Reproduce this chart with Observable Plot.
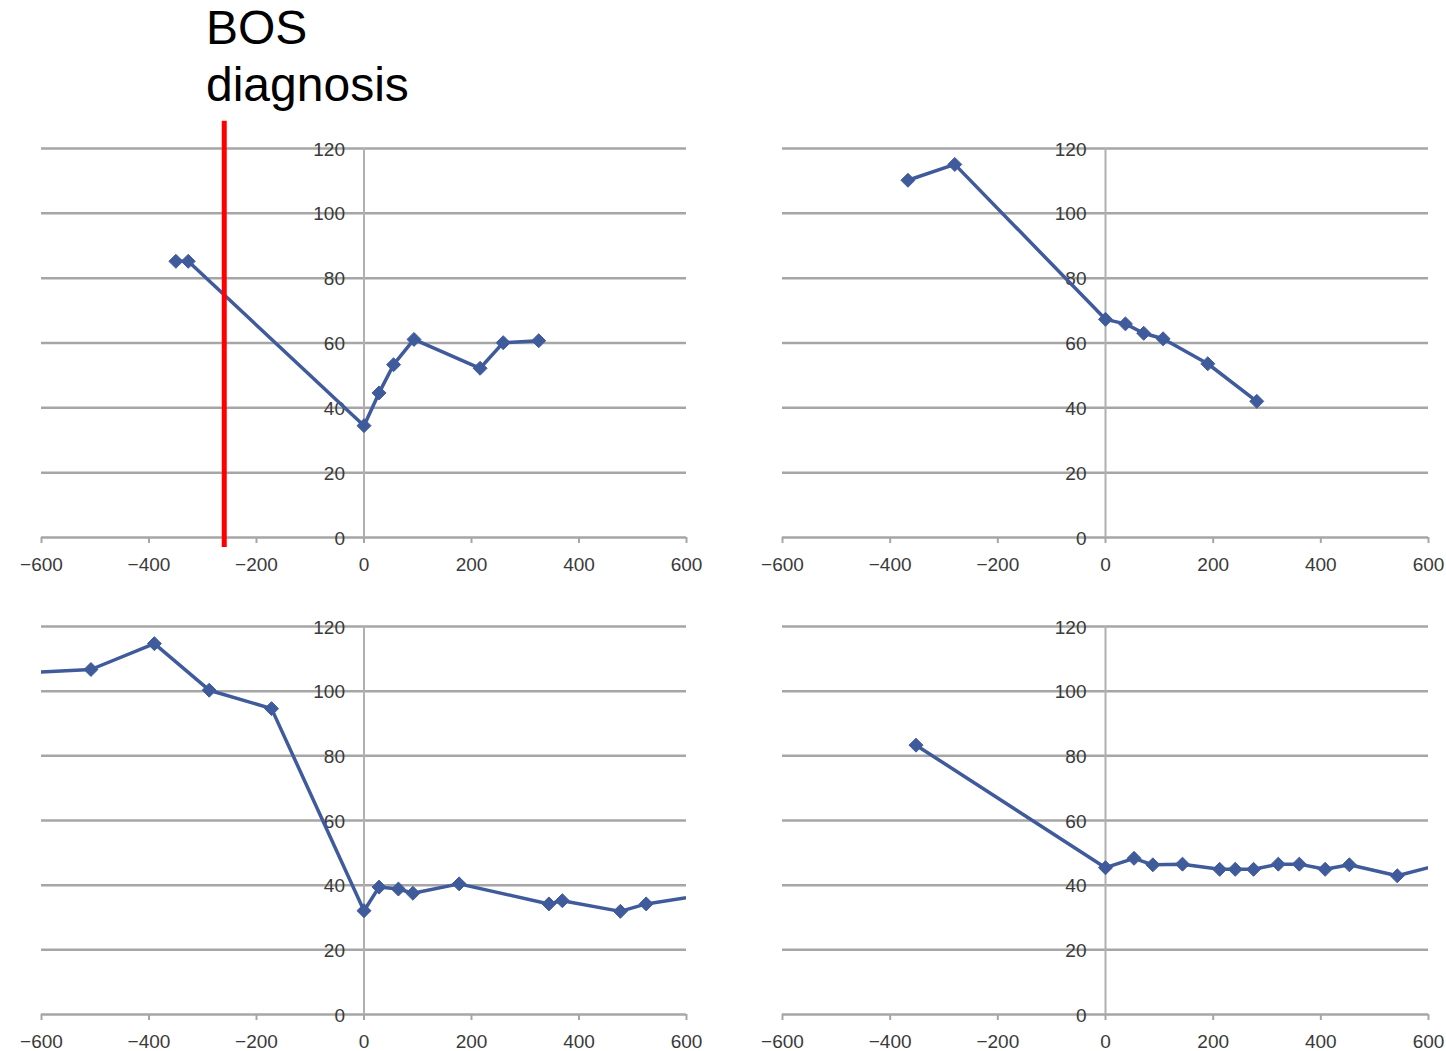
<!DOCTYPE html>
<html>
<head>
<meta charset="utf-8">
<script src="https://cdn.jsdelivr.net/npm/d3@7"></script>
<script src="https://cdn.jsdelivr.net/npm/@observablehq/plot@0.6"></script>
<style>
  html, body { margin: 0; padding: 0; background: #fff; }
  #wrap { position: relative; width: 1446px; height: 1051px; background: #fff; overflow: hidden; }
  .panel { position: absolute; }
  #title { position: absolute; left: 206px; top: -1px; font-family: "Liberation Sans", Arial, sans-serif; font-size: 48px; line-height: 57px; color: #000; }
</style>
</head>
<body>
<div id="wrap">
  <div id="title">BOS<br>diagnosis</div>
  <div class="panel" id="p1"></div>
  <div class="panel" id="p2"></div>
  <div class="panel" id="p3"></div>
  <div class="panel" id="p4"></div>
</div>
<script>
// Tick values
const xTicks = [-600, -400, -200, 0, 200, 400, 600];
const yTicks = [0, 20, 40, 60, 80, 100, 120];

// Panel 1 (top-left)
const p1x = [-350, -327, 0, 28, 55, 93, 216, 259, 325];
const p1y = [85.2, 85.2, 34.5, 44.6, 53.3, 61.1, 52.2, 60.1, 60.7];
const bosDiagnosisX = [-260];

// Panel 2 (top-right)
const p2x = [-367, -280, 0, 37, 71, 107, 190, 281];
const p2y = [110.2, 115.1, 67.3, 65.9, 63.0, 61.3, 53.6, 42.0];

// Panel 3 (bottom-left) — series continues past both edges of the axis range
const p3x = [-640, -508, -390, -288, -172, 0, 28, 64, 91, 177, 344, 369, 477, 525, 650];
const p3y = [105.6, 106.7, 114.7, 100.3, 94.6, 32.1, 39.4, 38.8, 37.5, 40.4, 34.2, 35.2, 31.9, 34.2, 37.4];

// Panel 4 (bottom-right) — series continues past the right edge
const p4x = [-352, 0, 53, 88, 143, 212, 241, 275, 321, 360, 408, 453, 542, 650];
const p4y = [83.3, 45.4, 48.3, 46.3, 46.5, 44.9, 44.9, 44.9, 46.5, 46.5, 44.9, 46.3, 42.9, 47.6];

const BLUE = "#3f5b9c";
const GRID = "#a6a6a6";
const LABEL = "#3a3a3a";

function fmt(d) { return d < 0 ? "\u2212" + Math.abs(d) : String(d); }

function panel(xs, ys, geom, extra) {
  const data = xs.map((x, i) => ({x, y: ys[i]}));
  const marks = [
    Plot.ruleY(yTicks, {stroke: GRID, strokeWidth: 2.5}),
    Plot.ruleX([0], {y1: 0, y2: 120, stroke: "#b0b0b0", strokeWidth: 2}),
    Plot.axisX({ticks: xTicks, label: null, tickSize: 6, tickPadding: 14, stroke: GRID, strokeWidth: 2,
      fill: LABEL, fontSize: 19, tickFormat: fmt}),
    Plot.text(yTicks, {x: () => 0, y: d => d, text: d => String(d), textAnchor: "end",
      dx: -19, dy: 1, fill: LABEL, fontSize: 19}),
    Plot.line(data, {x: "x", y: "y", stroke: BLUE, strokeWidth: 3.5, clip: true}),
    Plot.dot(data, {x: "x", y: "y", symbol: "diamond2", r: 6.3, fill: BLUE, stroke: BLUE, strokeWidth: 1, clip: true})
  ];
  if (extra) marks.push(...extra);
  return Plot.plot({
    width: geom.width, height: geom.height,
    marginLeft: geom.ml, marginRight: geom.mr, marginTop: geom.mt, marginBottom: geom.mb,
    x: {domain: [-600, 600], axis: null, label: null},
    y: {domain: [0, 120], axis: null, label: null},
    style: {fontFamily: "'Liberation Sans', Arial, sans-serif", fontSize: "19px", background: "transparent", overflow: "visible"},
    marks
  });
}

function place(id, left, top, el) {
  const d = document.getElementById(id);
  d.style.left = left + "px";
  d.style.top = top + "px";
  d.appendChild(el);
}

const topGeom = {height: 465, mt: 33, mb: 43};
const botGeom = {height: 456, mt: 31, mb: 37};
const leftGeom = {width: 720, ml: 41, mr: 34};
const rightGeom = {width: 716, ml: 52, mr: 18};

place("p1", 0, 115, panel(p1x, p1y, {...topGeom, ...leftGeom}, [
  Plot.ruleX(bosDiagnosisX, {y1: -3.1, y2: 128.4, stroke: "#ff0000", strokeWidth: 5})
]));
place("p2", 730, 115, panel(p2x, p2y, {...topGeom, ...rightGeom}));
place("p3", 0, 595, panel(p3x, p3y, {...botGeom, ...leftGeom}));
place("p4", 730, 595, panel(p4x, p4y, {...botGeom, ...rightGeom}));
</script>
</body>
</html>
